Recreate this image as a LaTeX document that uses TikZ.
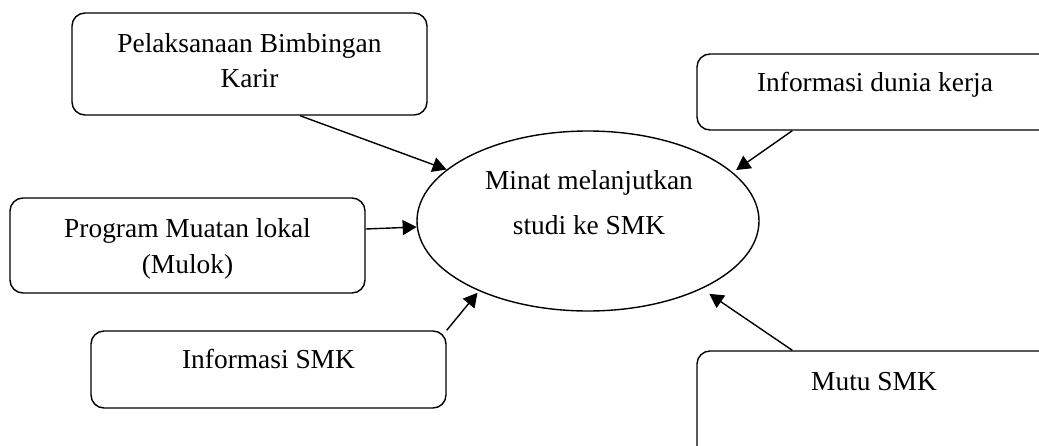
\documentclass[tikz,border=0pt]{standalone}
\usepackage{fontspec}
\setmainfont{Liberation Serif}
\usetikzlibrary{arrows.meta,shapes.geometric,calc}
\begin{document}
\begin{tikzpicture}[x=0.5pt,y=-0.5pt,
  box/.style={draw, line width=0.7pt, rounded corners=6.5pt, inner sep=0pt},
  oval/.style={draw, ellipse, line width=0.7pt, inner sep=0pt},
  txt/.style={font=\fontsize{13.7}{16}\selectfont, inner sep=0pt, anchor=base},
  arr/.style={-{Triangle[length=7pt,width=7.5pt]}, line width=0.7pt}]
\useasboundingbox (0,0) rectangle (1039,445);
\clip (0,0) rectangle (1039,445);
% boxes
\node[box, minimum width=177.5pt, minimum height=51pt] (pel) at (249.5,64) {};
\node[box, minimum width=181.5pt, minimum height=38pt] (dk) at (878.5,92) {};
\node[box, minimum width=177.5pt, minimum height=47.5pt] (prog) at (187.5,245.5) {};
\node[box, minimum width=177.5pt, minimum height=38.5pt] (smk) at (268.5,369.5) {};
\node[box, minimum width=181.5pt, minimum height=60pt] (mutu) at (878.5,411) {};
\node[oval, minimum width=171pt, minimum height=90pt] (ell) at (588,221) {};
% texts
\node[txt] (pelA) at (249.5,52) {Pelaksanaan Bimbingan};
\node[txt] (pelB) at (249.5,87) {Karir};
\node[txt] (dkA) at (875,91) {Informasi dunia kerja};
\node[txt] (progA) at (187.5,237) {Program Muatan lokal};
\node[txt] (progB) at (187.5,273) {(Mulok)};
\node[txt] (smkA) at (268.5,368) {Informasi SMK};
\node[txt] (ellA) at (589,189) {Minat melanjutkan};
\node[txt] (ellB) at (589,234) {studi ke SMK};
\node[txt] (mutuA) at (874,390) {Mutu SMK};
% connectors
\draw[arr] ([xshift=25.25pt]pel.south) -- (ell.160);
\draw[arr] ([xshift=48pt]dk.south west) -- ($(ell.center)!1.03!(ell.19)$);
\draw[arr] ([yshift=8.25pt]prog.east) -- (ell.182.7);
\draw[arr] (smk.north east) -- ($(ell.center)!1.02!(ell.213.7)$);
\draw[arr] ([xshift=48pt]mutu.north west) -- ($(ell.center)!1.07!(ell.329.5)$);
\end{tikzpicture}
\end{document}
